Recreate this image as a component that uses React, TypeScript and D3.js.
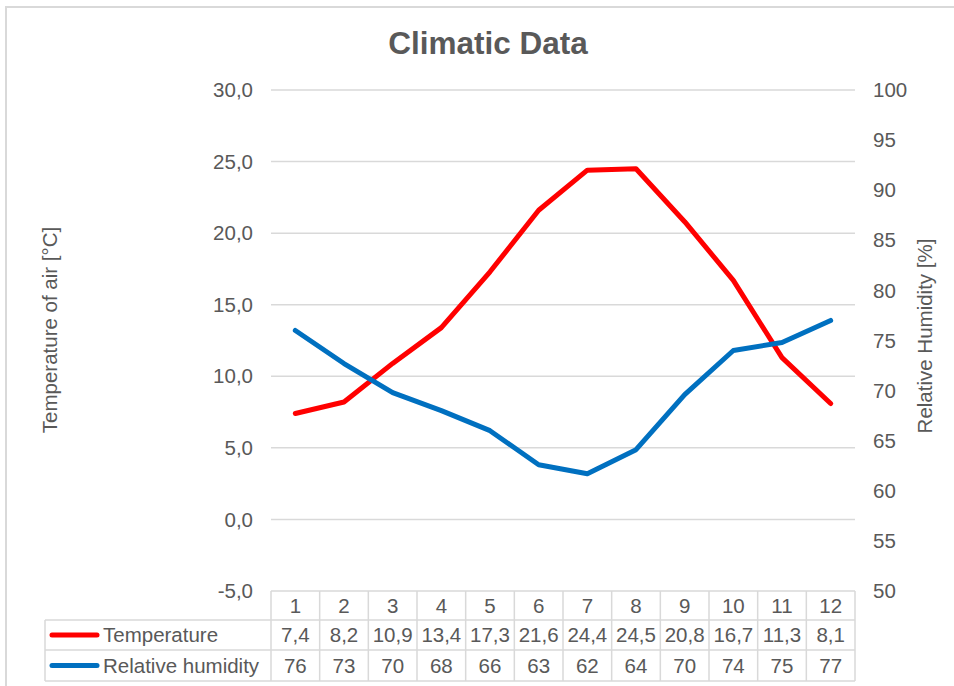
import React from "react";
import * as d3 from "d3";

const months = ["1", "2", "3", "4", "5", "6", "7", "8", "9", "10", "11", "12"];
const temperature = [7.4, 8.2, 10.9, 13.4, 17.3, 21.6, 24.4, 24.5, 20.8, 16.7, 11.3, 8.1];
const humidity = [76.0, 72.7, 69.8, 68.0, 66.0, 62.6, 61.7, 64.1, 69.6, 74.0, 74.8, 77.0];
const tempTicks = [30, 25, 20, 15, 10, 5, 0, -5];
const humTicks = [100, 95, 90, 85, 80, 75, 70, 65, 60, 55, 50];
const seriesNames = ["Temperature", "Relative humidity"];

const W = 954;
const H = 686;
const FONT = "'Liberation Sans', Arial, sans-serif";
const TXT = "#595959";
const GRID = "#d9d9d9";
const RED = "#ff0000";
const BLUE = "#0070c0";
const FS = 20.5;

export default function App() {
  const left = 271;
  const right = 855;
  const top = 90;
  const bottom = 591;
  const rowH = [29, 30, 31];

  const x = d3.scaleBand<string>().domain(months).range([left, right]).padding(0);
  const yT = d3.scaleLinear().domain([-5, 30]).range([bottom, top]);
  const yH = d3.scaleLinear().domain([50, 100]).range([bottom, top]);
  const cx = (i: number) => (x(months[i]) as number) + x.bandwidth() / 2;

  const lineT = d3.line<number>().x((_, i) => cx(i)).y((d) => yT(d)).curve(d3.curveLinear);
  const lineH = d3.line<number>().x((_, i) => cx(i)).y((d) => yH(d)).curve(d3.curveLinear);

  const fmt = (v: number) => v.toFixed(1).replace(".", ",");

  const r0 = bottom;
  const r1 = r0 + rowH[0];
  const r2 = r1 + rowH[1];
  const r3 = r2 + rowH[2];
  const legLeft = 45;

  return (
    <svg
      width={W}
      height={H}
      style={{ position: "absolute", left: 0, top: 0, background: "#fff" }}
      fontFamily={FONT}
    >
      <rect x={0} y={0} width={W} height={H} fill="#fff" />
      <rect x={6} y={7} width={970} height={700} fill="#fff" stroke={GRID} strokeWidth={2} />

      <text x={488} y={43} dy="0.35em" textAnchor="middle" fontSize={31.5} fontWeight="bold" fill={TXT}>
        Climatic Data
      </text>

      {/* gridlines */}
      {tempTicks.filter((t) => t > -5).map((t) => (
        <line key={"g" + t} x1={left} x2={right} y1={yT(t)} y2={yT(t)} stroke={GRID} strokeWidth={1.5} />
      ))}

      {/* left tick labels */}
      {tempTicks.map((t) => (
        <text key={"lt" + t} x={253} y={yT(t)} dy="0.35em" textAnchor="end" fontSize={FS} fill={TXT}>
          {fmt(t)}
        </text>
      ))}

      {/* right tick labels */}
      {humTicks.map((t) => (
        <text key={"rt" + t} x={873} y={yH(t)} dy="0.35em" textAnchor="start" fontSize={FS} fill={TXT}>
          {t}
        </text>
      ))}

      {/* axis titles */}
      <text transform={`translate(50,330) rotate(-90)`} dy="0.35em" textAnchor="middle" fontSize={FS} fill={TXT}>
        Temperature of air [°C]
      </text>
      <text transform={`translate(925,336) rotate(-90)`} dy="0.35em" textAnchor="middle" fontSize={FS} fill={TXT}>
        Relative Humidity [%]
      </text>

      {/* lines */}
      <path d={lineT(temperature) || ""} fill="none" stroke={RED} strokeWidth={5} strokeLinejoin="round" strokeLinecap="round" />
      <path d={lineH(humidity) || ""} fill="none" stroke={BLUE} strokeWidth={5} strokeLinejoin="round" strokeLinecap="round" />

      {/* data table */}
      <g stroke={GRID} strokeWidth={1.5} fill="none">
        <line x1={left} x2={right} y1={r0} y2={r0} />
        <line x1={legLeft} x2={right} y1={r1} y2={r1} />
        <line x1={legLeft} x2={right} y1={r2} y2={r2} />
        <line x1={legLeft} x2={right} y1={r3} y2={r3} />
        <line x1={legLeft} x2={legLeft} y1={r1} y2={r3} />
        {months.map((m) => (
          <line key={"v" + m} x1={x(m) as number} x2={x(m) as number} y1={r0} y2={r3} />
        ))}
        <line x1={right} x2={right} y1={r0} y2={r3} />
      </g>

      {months.map((m, i) => (
        <text key={"m" + m} x={cx(i)} y={(r0 + r1) / 2} dy="0.35em" textAnchor="middle" fontSize={FS} fill={TXT}>
          {m}
        </text>
      ))}
      {temperature.map((v, i) => (
        <text key={"tv" + i} x={cx(i)} y={(r1 + r2) / 2} dy="0.35em" textAnchor="middle" fontSize={FS} fill={TXT}>
          {fmt(v)}
        </text>
      ))}
      {humidity.map((v, i) => (
        <text key={"hv" + i} x={cx(i)} y={(r2 + r3) / 2} dy="0.35em" textAnchor="middle" fontSize={FS} fill={TXT}>
          {Math.round(v)}
        </text>
      ))}

      {/* legend keys */}
      <line x1={52} x2={97} y1={(r1 + r2) / 2} y2={(r1 + r2) / 2} stroke={RED} strokeWidth={5} strokeLinecap="round" />
      <line x1={52} x2={97} y1={(r2 + r3) / 2} y2={(r2 + r3) / 2} stroke={BLUE} strokeWidth={5} strokeLinecap="round" />
      <text x={103} y={(r1 + r2) / 2} dy="0.35em" fontSize={FS} fill={TXT}>
        {seriesNames[0]}
      </text>
      <text x={103} y={(r2 + r3) / 2} dy="0.35em" fontSize={FS} fill={TXT}>
        {seriesNames[1]}
      </text>
    </svg>
  );
}
